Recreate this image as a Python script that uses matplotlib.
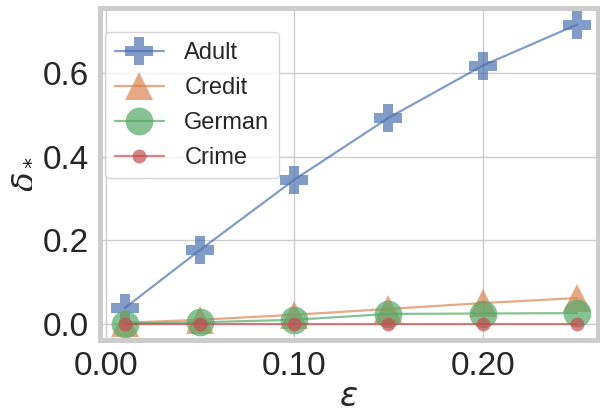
import matplotlib
matplotlib.use("Agg")
import matplotlib.pyplot as plt
import seaborn as sns

# privacy budget values and resulting delta for each dataset
epsilon = [0.01, 0.05, 0.10, 0.15, 0.20, 0.25]
adult = [0.038, 0.177, 0.345, 0.493, 0.618, 0.716]
credit = [0.003, 0.010, 0.022, 0.036, 0.050, 0.062]
german = [0.001, 0.004, 0.010, 0.024, 0.025, 0.026]
crime = [0.0, 0.0, 0.0, 0.0, 0.0, 0.0]
xticks = [0.00, 0.10, 0.20]
xtick_labels = ["0.00", "0.10", "0.20"]
yticks = [0.0, 0.2, 0.4, 0.6]

sns.set_theme(style="whitegrid")
plt.rcParams["font.family"] = ["Liberation Sans", "DejaVu Sans"]

pal = sns.color_palette("deep")

fig = plt.figure(figsize=(6.0, 4.17), dpi=100)
ax = fig.add_axes([0.167, 0.185, 0.829, 0.797])

common = dict(alpha=0.7, linewidth=1.6, markeredgewidth=0)
ax.plot(epsilon, adult, marker="P", markersize=20, color=pal[0],
        label="Adult", **common)
ax.plot(epsilon, credit, marker="^", markersize=20, color=pal[1],
        label="Credit", **common)
ax.plot(epsilon, german, marker="o", markersize=20, color=pal[2],
        label="German", **common)
ax.plot(epsilon, crime, marker="o", markersize=10, color=pal[3],
        label="Crime", **common)

ax.set_xlim(-0.003, 0.261)
ax.set_ylim(-0.038, 0.757)
ax.set_xticks(xticks)
ax.set_xticklabels(xtick_labels)
ax.set_yticks(yticks)
ax.tick_params(labelsize=24, pad=2)

ax.set_xlabel(r"$\epsilon$", fontsize=24, labelpad=0)
ax.set_ylabel(r"$\delta_*$", fontsize=23, labelpad=4)

for sp in ax.spines.values():
    sp.set_color("#cccccc")
    sp.set_linewidth(3.6)

ax.legend(loc="upper left", bbox_to_anchor=(0.01, 0.925), borderaxespad=0,
          fontsize=17, handlelength=2.1, borderpad=0.4, labelspacing=0.55,
          handletextpad=0.85, frameon=True)

fig.savefig("out.png", dpi=100)
